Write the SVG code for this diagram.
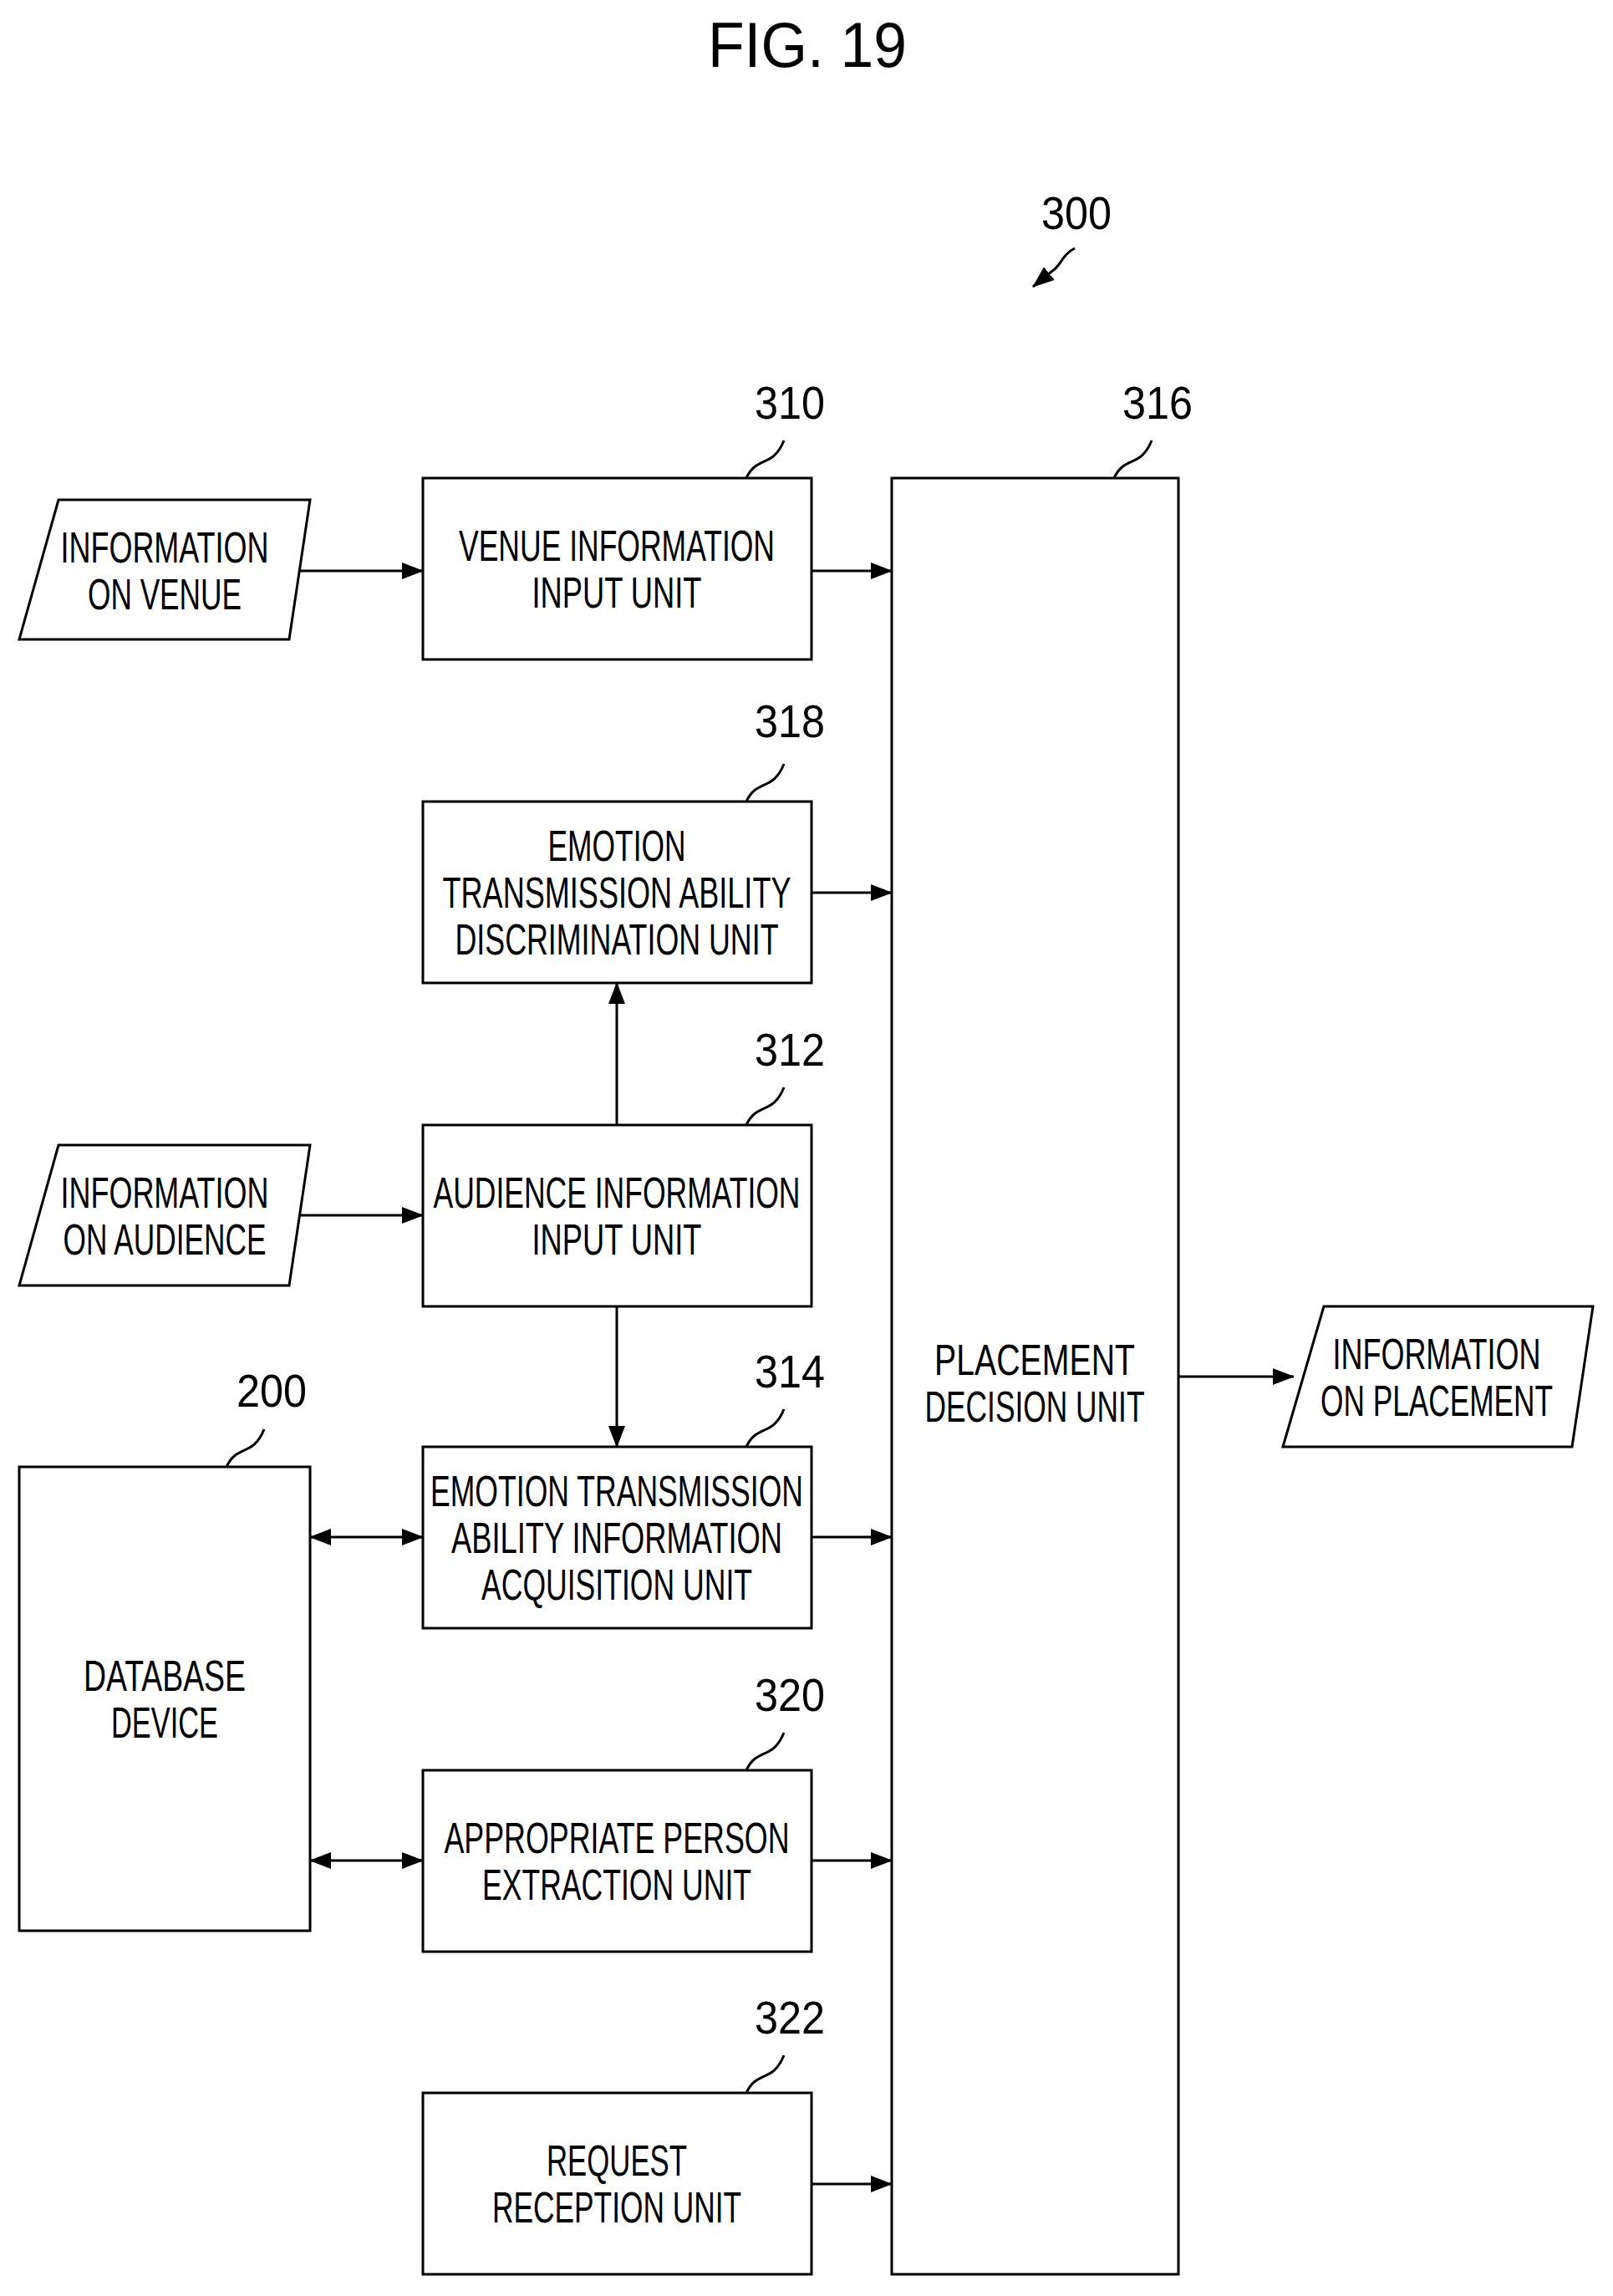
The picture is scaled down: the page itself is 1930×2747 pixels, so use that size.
<svg xmlns="http://www.w3.org/2000/svg" width="1930" height="2747" viewBox="0 0 1930 2747">
<style>
rect,polygon{fill:#fff;stroke:#000;stroke-width:3}
.c path,.c line{stroke:#000;stroke-width:3;fill:none}
text{font-family:"Liberation Sans",Arial,sans-serif;font-size:52px;text-anchor:middle;fill:#000}
.n{font-size:56px}
</style>
<defs>
<marker id="a" markerWidth="10" markerHeight="10" refX="9" refY="5" orient="auto" markerUnits="userSpaceOnUse" viewBox="0 0 10 10"><path d="M0,0 L10,5 L0,10 z" fill="#000"/></marker>
<marker id="ah" markerWidth="26" markerHeight="20" refX="25" refY="10" orient="auto-start-reverse" markerUnits="userSpaceOnUse"><path d="M0,0 L26,10 L0,20 z" fill="#000"/></marker>
</defs>
<text x="966" y="80" style="font-size:76px" textLength="238" lengthAdjust="spacingAndGlyphs">FIG. 19</text>
<g id="label300"><text class="n" x="1288" y="274" textLength="84" lengthAdjust="spacingAndGlyphs">300</text></g>
<g id="venue"><polygon points="70,598 371,598 346,765 23,765"/><text x="197" y="673" textLength="249" lengthAdjust="spacingAndGlyphs">INFORMATION</text><text x="197" y="729" textLength="184" lengthAdjust="spacingAndGlyphs">ON VENUE</text></g>
<g id="audience"><polygon points="70,1370 371,1370 346,1538 23,1538"/><text x="197" y="1445" textLength="249" lengthAdjust="spacingAndGlyphs">INFORMATION</text><text x="197" y="1501" textLength="243" lengthAdjust="spacingAndGlyphs">ON AUDIENCE</text></g>
<g id="placement"><polygon points="1584,1563 1906,1563 1881,1731 1535,1731"/><text x="1719" y="1638" textLength="249" lengthAdjust="spacingAndGlyphs">INFORMATION</text><text x="1719" y="1694" textLength="278" lengthAdjust="spacingAndGlyphs">ON PLACEMENT</text></g>
<g id="u310"><rect x="506" y="572" width="465" height="217"/><text x="738" y="671" textLength="378" lengthAdjust="spacingAndGlyphs">VENUE INFORMATION</text><text x="738" y="727" textLength="203" lengthAdjust="spacingAndGlyphs">INPUT UNIT</text><text class="n" x="945" y="501" textLength="84" lengthAdjust="spacingAndGlyphs">310</text></g>
<g id="u318"><rect x="506" y="959" width="465" height="217"/><text x="738" y="1030" textLength="165" lengthAdjust="spacingAndGlyphs">EMOTION</text><text x="738" y="1086" textLength="417" lengthAdjust="spacingAndGlyphs">TRANSMISSION ABILITY</text><text x="738" y="1142" textLength="387" lengthAdjust="spacingAndGlyphs">DISCRIMINATION UNIT</text><text class="n" x="945" y="882" textLength="84" lengthAdjust="spacingAndGlyphs">318</text></g>
<g id="u312"><rect x="506" y="1346" width="465" height="217"/><text x="738" y="1445" textLength="439" lengthAdjust="spacingAndGlyphs">AUDIENCE INFORMATION</text><text x="738" y="1501" textLength="203" lengthAdjust="spacingAndGlyphs">INPUT UNIT</text><text class="n" x="945" y="1275" textLength="84" lengthAdjust="spacingAndGlyphs">312</text></g>
<g id="u314"><rect x="506" y="1731" width="465" height="217"/><text x="738" y="1802" textLength="446" lengthAdjust="spacingAndGlyphs">EMOTION TRANSMISSION</text><text x="738" y="1858" textLength="396" lengthAdjust="spacingAndGlyphs">ABILITY INFORMATION</text><text x="738" y="1914" textLength="324" lengthAdjust="spacingAndGlyphs">ACQUISITION UNIT</text><text class="n" x="945" y="1660" textLength="84" lengthAdjust="spacingAndGlyphs">314</text></g>
<g id="u320"><rect x="506" y="2118" width="465" height="217"/><text x="738" y="2217" textLength="413" lengthAdjust="spacingAndGlyphs">APPROPRIATE PERSON</text><text x="738" y="2273" textLength="322" lengthAdjust="spacingAndGlyphs">EXTRACTION UNIT</text><text class="n" x="945" y="2047" textLength="84" lengthAdjust="spacingAndGlyphs">320</text></g>
<g id="u322"><rect x="506" y="2504" width="465" height="217"/><text x="738" y="2603" textLength="168" lengthAdjust="spacingAndGlyphs">REQUEST</text><text x="738" y="2659" textLength="298" lengthAdjust="spacingAndGlyphs">RECEPTION UNIT</text><text class="n" x="945" y="2433" textLength="84" lengthAdjust="spacingAndGlyphs">322</text></g>
<g id="u316"><rect x="1067" y="572" width="343" height="2149"/><text x="1238" y="1645" textLength="240" lengthAdjust="spacingAndGlyphs">PLACEMENT</text><text x="1238" y="1701" textLength="263" lengthAdjust="spacingAndGlyphs">DECISION UNIT</text><text class="n" x="1385" y="501" textLength="84" lengthAdjust="spacingAndGlyphs">316</text></g>
<g id="db200"><rect x="23" y="1755" width="348" height="555"/><text x="197" y="2023" textLength="194" lengthAdjust="spacingAndGlyphs">DATABASE</text><text x="197" y="2079" textLength="128" lengthAdjust="spacingAndGlyphs">DEVICE</text><text class="n" x="325" y="1683" textLength="84" lengthAdjust="spacingAndGlyphs">200</text></g>
<g class="c" id="connectors">
<path d="M1286,297 C1270,305 1270,318 1258,325 L1236,343" marker-end="url(#ah)"/>
<path d="M893,572 C905,545 925,560 938,527"/>
<path d="M893,959 C905,932 925,947 938,914"/>
<path d="M893,1346 C905,1319 925,1334 938,1301"/>
<path d="M893,1731 C905,1704 925,1719 938,1686"/>
<path d="M893,2118 C905,2091 925,2106 938,2073"/>
<path d="M893,2504 C905,2477 925,2492 938,2459"/>
<path d="M1333,572 C1345,545 1365,560 1378,527"/>
<path d="M271,1755 C283,1728 303,1743 316,1710"/>
<line x1="359" y1="683" x2="506" y2="683" marker-end="url(#ah)"/>
<line x1="971" y1="683" x2="1067" y2="683" marker-end="url(#ah)"/>
<line x1="971" y1="1068" x2="1067" y2="1068" marker-end="url(#ah)"/>
<line x1="738" y1="1346" x2="738" y2="1176" marker-end="url(#ah)"/>
<line x1="359" y1="1454" x2="506" y2="1454" marker-end="url(#ah)"/>
<line x1="738" y1="1563" x2="738" y2="1731" marker-end="url(#ah)"/>
<line x1="371" y1="1839" x2="506" y2="1839" marker-start="url(#ah)" marker-end="url(#ah)"/>
<line x1="971" y1="1839" x2="1067" y2="1839" marker-end="url(#ah)"/>
<line x1="371" y1="2226" x2="506" y2="2226" marker-start="url(#ah)" marker-end="url(#ah)"/>
<line x1="971" y1="2226" x2="1067" y2="2226" marker-end="url(#ah)"/>
<line x1="971" y1="2613" x2="1067" y2="2613" marker-end="url(#ah)"/>
<line x1="1410" y1="1647" x2="1548" y2="1647" marker-end="url(#ah)"/>
</g>
</svg>
